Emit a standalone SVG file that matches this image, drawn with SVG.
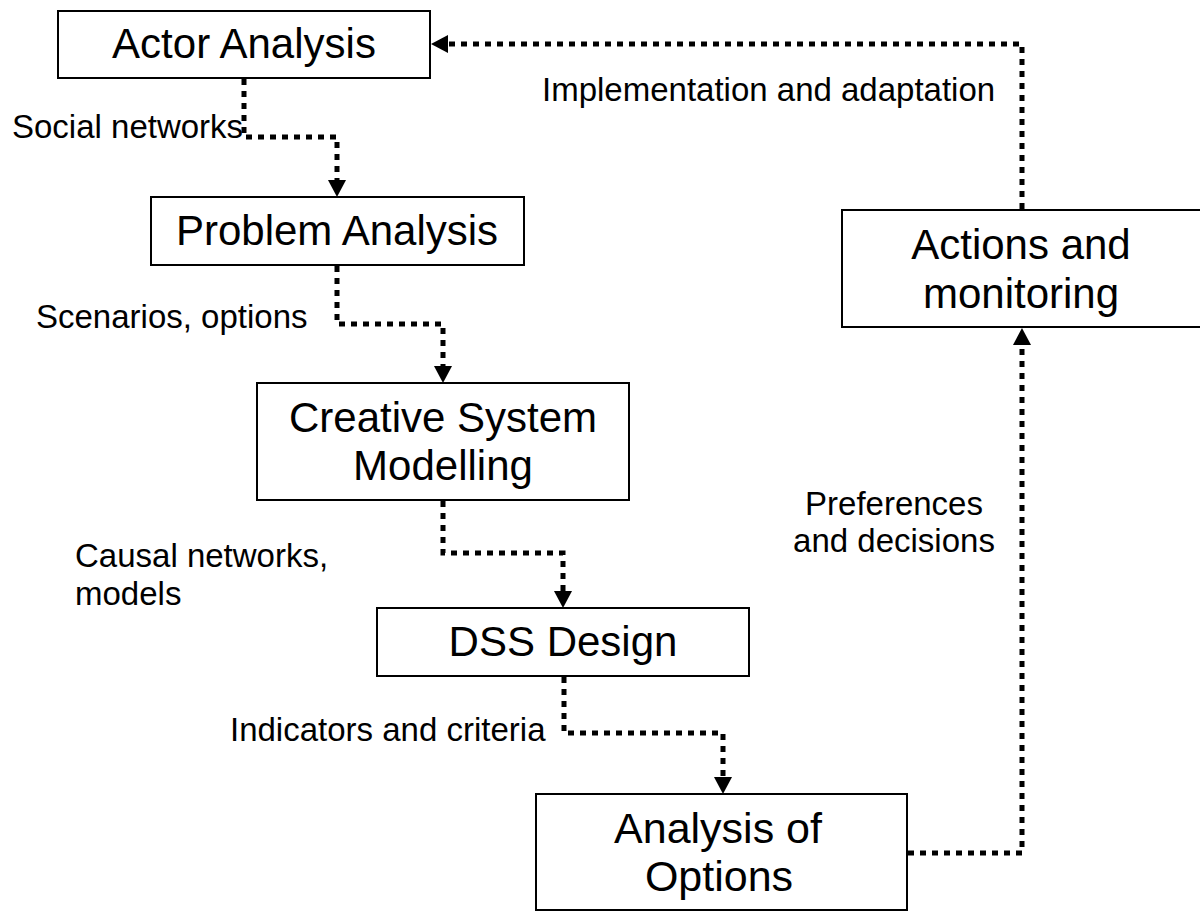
<svg xmlns="http://www.w3.org/2000/svg" width="1200" height="911" viewBox="0 0 1200 911">
<defs>
<style>
.box{fill:#fff;stroke:#000;stroke-width:2}
.nt{font-family:"Liberation Sans",Arial,sans-serif;font-size:42px;fill:#000;text-anchor:middle}
.lb{font-family:"Liberation Sans",Arial,sans-serif;font-size:33px;fill:#000}
.con{fill:none;stroke:#000;stroke-width:5;stroke-dasharray:6 6}
</style>
<marker id="ah" markerUnits="userSpaceOnUse" markerWidth="18" markerHeight="18" refX="0" refY="9" orient="auto">
<path d="M0,0 L17,9 L0,18 Z" fill="#000"/>
</marker>
</defs>
<rect width="1200" height="911" fill="#fff"/>
<g id="connectors">
<path class="con" d="M244,79 V137 H337 V180" marker-end="url(#ah)"/>
<path class="con" d="M337,266 V324 H443 V366" marker-end="url(#ah)"/>
<path class="con" d="M443,501 V553 H563 V591" marker-end="url(#ah)"/>
<path class="con" d="M564,677 V733 H723 V777" marker-end="url(#ah)"/>
<path class="con" d="M908,853 H1022 V345" marker-end="url(#ah)"/>
<path class="con" d="M1022,209 V44 H448" marker-end="url(#ah)"/>
</g>
<g id="labels">
<text class="lb" x="12" y="138">Social networks</text>
<text class="lb" x="36" y="328">Scenarios, options</text>
<text class="lb" x="75" y="567">Causal networks,</text>
<text class="lb" x="75" y="605">models</text>
<text class="lb" x="230" y="741">Indicators and criteria</text>
<text class="lb" x="894" y="515" text-anchor="middle">Preferences</text>
<text class="lb" x="894" y="552" text-anchor="middle">and decisions</text>
<text class="lb" x="542" y="101">Implementation and adaptation</text>
</g>
<g id="actor-analysis">
<rect class="box" x="58" y="11" width="372" height="67"/>
<text class="nt" x="244" y="58">Actor Analysis</text>
</g>
<g id="problem-analysis">
<rect class="box" x="151" y="197" width="373" height="68"/>
<text class="nt" x="337" y="245">Problem Analysis</text>
</g>
<g id="creative-system-modelling">
<rect class="box" x="257" y="383" width="372" height="117"/>
<text class="nt" x="443" y="432">Creative System</text>
<text class="nt" x="443" y="480">Modelling</text>
</g>
<g id="dss-design">
<rect class="box" x="377" y="608" width="372" height="68"/>
<text class="nt" x="563" y="656">DSS Design</text>
</g>
<g id="analysis-of-options">
<rect class="box" x="536" y="794" width="371" height="116"/>
<text class="nt" x="718" y="843" style="font-size:43px">Analysis of</text>
<text class="nt" x="719" y="891" style="font-size:43px">Options</text>
</g>
<g id="actions-and-monitoring">
<rect class="box" x="842" y="210" width="362" height="117"/>
<text class="nt" x="1021" y="259">Actions and</text>
<text class="nt" x="1021" y="308">monitoring</text>
</g>
</svg>
